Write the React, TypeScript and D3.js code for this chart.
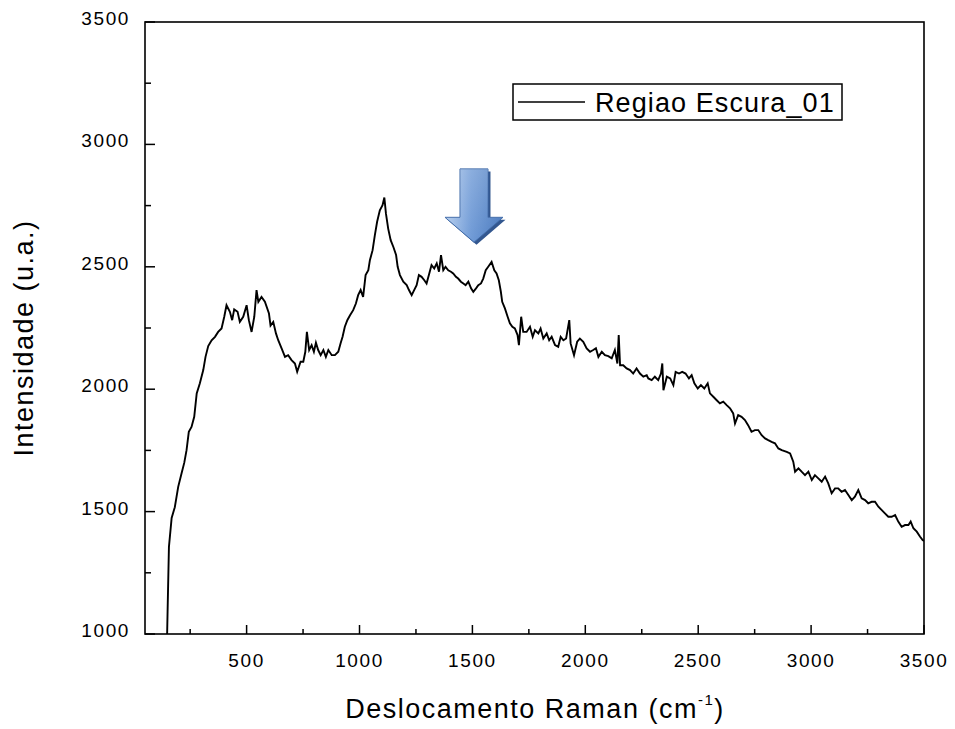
import React from "react";
import * as d3 from "d3";

// Raman shift (cm^-1) and intensity (a.u.)
const ramanShift = [
  148, 150, 156, 168, 182, 197, 212, 224, 234, 244, 256, 268, 279, 293, 308, 318, 330, 345, 360, 374,
  389, 401, 411, 426, 436, 445, 460, 470, 485, 500, 510, 522, 534, 544, 552, 566, 581, 599, 606, 618,
  630, 640, 655, 670, 684, 699, 714, 724, 739, 751, 760, 767, 777, 788, 798, 807, 817, 828, 840, 851,
  862, 877, 891, 906, 916, 925, 935, 946, 958, 972, 984, 994, 1005, 1016, 1027, 1039, 1046, 1058, 1068, 1078,
  1090, 1102, 1110, 1117, 1127, 1138, 1150, 1162, 1169, 1179, 1194, 1209, 1219, 1231, 1242, 1253, 1263, 1275, 1287, 1297,
  1309, 1319, 1331, 1342, 1352, 1361, 1371, 1381, 1393, 1405, 1415, 1427, 1437, 1449, 1460, 1470, 1482, 1494, 1504, 1516,
  1526, 1538, 1548, 1559, 1570, 1585, 1597, 1607, 1617, 1626, 1632, 1644, 1656, 1666, 1677, 1688, 1700, 1706, 1716, 1725,
  1740, 1755, 1767, 1777, 1792, 1802, 1814, 1829, 1840, 1851, 1866, 1880, 1891, 1903, 1915, 1929, 1935, 1950, 1964, 1976,
  1991, 2006, 2021, 2035, 2047, 2058, 2073, 2087, 2102, 2117, 2131, 2142, 2148, 2154, 2168, 2183, 2198, 2212, 2227, 2242,
  2257, 2272, 2279, 2294, 2308, 2323, 2335, 2341, 2346, 2361, 2376, 2390, 2400, 2415, 2429, 2444, 2459, 2471, 2483, 2498,
  2512, 2527, 2542, 2552, 2567, 2582, 2596, 2611, 2626, 2641, 2655, 2663, 2677, 2692, 2707, 2721, 2736, 2751, 2766, 2781,
  2796, 2810, 2825, 2840, 2855, 2870, 2892, 2907, 2921, 2929, 2944, 2958, 2973, 2988, 3003, 3017, 3032, 3047, 3062, 3076,
  3091, 3106, 3120, 3135, 3150, 3165, 3180, 3194, 3209, 3224, 3239, 3253, 3268, 3283, 3298, 3313, 3327, 3342, 3357, 3372,
  3386, 3401, 3416, 3431, 3441, 3453, 3468, 3482, 3494, 3500,
];
const intensity = [
  1000, 1091, 1356, 1474, 1518, 1601, 1657, 1700, 1751, 1826, 1846, 1887, 1983, 2024, 2078, 2132, 2176, 2200, 2214, 2234,
  2248, 2296, 2343, 2316, 2282, 2326, 2316, 2275, 2296, 2343, 2282, 2234, 2296, 2405, 2357, 2377, 2357, 2309, 2260, 2275,
  2228, 2200, 2167, 2132, 2139, 2119, 2105, 2071, 2112, 2112, 2153, 2234, 2160, 2180, 2153, 2190, 2160, 2139, 2160, 2132,
  2160, 2139, 2139, 2153, 2187, 2214, 2255, 2282, 2302, 2323, 2350, 2384, 2405, 2377, 2466, 2486, 2527, 2568, 2629, 2684,
  2731, 2752, 2783, 2718, 2656, 2609, 2581, 2548, 2500, 2466, 2439, 2425, 2405, 2384, 2405, 2425, 2466, 2459, 2445, 2432,
  2473, 2507, 2493, 2514, 2480, 2548, 2486, 2500, 2486, 2480, 2473, 2459, 2452, 2439, 2432, 2425, 2439, 2412, 2398, 2412,
  2425, 2432, 2452, 2486, 2500, 2520, 2486, 2473, 2445, 2398, 2357, 2330, 2296, 2269, 2255, 2248, 2221, 2180, 2296, 2234,
  2234, 2255, 2214, 2241, 2228, 2248, 2207, 2228, 2200, 2214, 2180, 2173, 2214, 2200, 2207, 2282, 2187, 2139, 2194, 2207,
  2194, 2167, 2153, 2160, 2167, 2132, 2153, 2139, 2135, 2126, 2160, 2105, 2221, 2098, 2098, 2085, 2078, 2064, 2085, 2064,
  2051, 2057, 2044, 2037, 2051, 2037, 2064, 2105, 1996, 2051, 2044, 2017, 2071, 2064, 2071, 2064, 2044, 2057, 2024, 2003,
  2017, 2003, 2024, 1983, 1969, 1955, 1942, 1949, 1935, 1922, 1901, 1860, 1894, 1887, 1874, 1853, 1826, 1833, 1833, 1812,
  1799, 1792, 1785, 1779, 1758, 1751, 1744, 1738, 1704, 1663, 1677, 1663, 1649, 1663, 1629, 1649, 1636, 1622, 1643, 1615,
  1575, 1595, 1595, 1581, 1588, 1568, 1547, 1561, 1588, 1554, 1547, 1534, 1540, 1540, 1520, 1506, 1493, 1479, 1479, 1486,
  1459, 1438, 1445, 1445, 1459, 1432, 1418, 1398, 1384, 1380,
];

const xMajorTicks = [500, 1000, 1500, 2000, 2500, 3000, 3500];
const xMinorTicks = [250, 750, 1250, 1750, 2250, 2750, 3250];
const yMajorTicks = [1000, 1500, 2000, 2500, 3000, 3500];
const yMinorTicks = [1250, 1750, 2250, 2750, 3250];

const seriesName = "Regiao Escura_01";
const xTitle = "Deslocamento Raman (cm";
const yTitle = "Intensidade (u.a.)";

// annotation arrow (data coords)
const arrowX = 1507;
const arrowTopY = 2900;
const arrowTipY = 2600;

const W = 955;
const H = 729;
const L = 145, R = 924, T = 22, B = 634;
const FONT = "'Liberation Sans', Arial, Helvetica, sans-serif";

export default function App() {
  const x = d3.scaleLinear().domain([50, 3500]).range([L, R]);
  const y = d3.scaleLinear().domain([1000, 3500]).range([B, T]);
  const pts = ramanShift.map((v, i) => [v, intensity[i]] as [number, number]);
  const line = d3
    .line<[number, number]>()
    .x((d) => x(d[0]))
    .y((d) => y(d[1]));

  // arrow geometry
  const ax = x(arrowX);
  const aTop = y(arrowTopY);
  const aTip = y(arrowTipY);
  const shaftHalf = 14;
  const headHalf = 29;
  const headH = 25;
  const shaftBottom = aTip - headH;
  const arrowPath = [
    [ax - shaftHalf, aTop],
    [ax + shaftHalf, aTop],
    [ax + shaftHalf, shaftBottom],
    [ax + headHalf, shaftBottom],
    [ax, aTip],
    [ax - headHalf, shaftBottom],
    [ax - shaftHalf, shaftBottom],
  ]
    .map((p, i) => (i === 0 ? "M" : "L") + p[0] + "," + p[1])
    .join("") + "Z";

  return (
    <svg
      width={W}
      height={H}
      style={{ position: "absolute", left: 0, top: 0, background: "#fff" }}
      fontFamily={FONT}
    >
      <defs>
        <linearGradient id="arrowGrad" x1="0" y1="0" x2="1" y2="0">
          <stop offset="0%" stopColor="#b3cced" />
          <stop offset="45%" stopColor="#6f9ad6" />
          <stop offset="100%" stopColor="#4677bd" />
        </linearGradient>
        <linearGradient id="arrowGradV" x1="0" y1="0" x2="0" y2="1">
          <stop offset="0%" stopColor="#ffffff" stopOpacity="0.2" />
          <stop offset="100%" stopColor="#ffffff" stopOpacity="0" />
        </linearGradient>
        <clipPath id="plotClip">
          <rect x={L} y={T} width={R - L} height={B - T} />
        </clipPath>
      </defs>
      <rect x={0} y={0} width={W} height={H} fill="#fff" />

      {/* data line */}
      <path
        d={line(pts) || ""}
        fill="none"
        stroke="#000"
        strokeWidth={1.9}
        strokeLinejoin="miter"
        clipPath="url(#plotClip)"
      />

      {/* frame */}
      <rect x={L} y={T} width={R - L} height={B - T} fill="none" stroke="#000" strokeWidth={1.6} />

      {/* x ticks */}
      {xMajorTicks.map((t) => (
        <line key={"xM" + t} x1={x(t)} x2={x(t)} y1={B} y2={B - 9} stroke="#000" strokeWidth={1.5} />
      ))}
      {xMinorTicks.map((t) => (
        <line key={"xm" + t} x1={x(t)} x2={x(t)} y1={B} y2={B - 5} stroke="#000" strokeWidth={1.5} />
      ))}
      {xMajorTicks.map((t) => (
        <text
          key={"xl" + t}
          x={x(t)}
          y={667}
          textAnchor="middle"
          fontSize={19}
          letterSpacing={1.6}
          fill="#000"
        >
          {t}
        </text>
      ))}

      {/* y ticks */}
      {yMajorTicks.map((t) => (
        <line key={"yM" + t} x1={L} x2={L + 10} y1={y(t)} y2={y(t)} stroke="#000" strokeWidth={1.5} />
      ))}
      {yMinorTicks.map((t) => (
        <line key={"ym" + t} x1={L} x2={L + 6} y1={y(t)} y2={y(t)} stroke="#000" strokeWidth={1.5} />
      ))}
      {yMajorTicks.map((t) => (
        <text
          key={"yl" + t}
          x={130}
          y={y(t) + 3}
          textAnchor="end"
          fontSize={19}
          letterSpacing={1.6}
          fill="#000"
        >
          {t}
        </text>
      ))}

      {/* axis titles */}
      <text x={535} y={718} textAnchor="middle" fontSize={27} letterSpacing={1.5} fill="#000">
        {xTitle}
        <tspan fontSize={15} dy={-13}>-1</tspan>
        <tspan dy={13}>)</tspan>
      </text>
      <text
        transform={`translate(33, 338) rotate(-90)`}
        textAnchor="middle"
        fontSize={27}
        letterSpacing={1.5}
        fill="#000"
      >
        {yTitle}
      </text>

      {/* legend */}
      <rect x={513} y={84} width={329} height={36} fill="#fff" stroke="#000" strokeWidth={1.5} />
      <line x1={518} x2={585} y1={102} y2={102} stroke="#000" strokeWidth={1.6} />
      <text x={595} y={111.5} fontSize={27} letterSpacing={1.1} fill="#000">
        {seriesName}
      </text>

      {/* arrow annotation */}
      <path d={arrowPath} transform="translate(2.5,2.5)" fill="#33578f" />
      <path d={arrowPath} fill="url(#arrowGrad)" stroke="#3f6aa8" strokeWidth={1} />
      <path d={arrowPath} fill="url(#arrowGradV)" />
    </svg>
  );
}
